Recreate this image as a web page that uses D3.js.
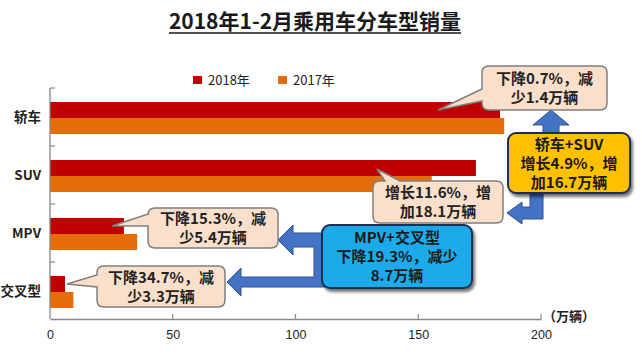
<!DOCTYPE html>
<html><head><meta charset="utf-8">
<script src="https://cdn.jsdelivr.net/npm/d3@7"></script>
<style>
html,body{margin:0;padding:0;background:#fff;}
svg{display:block;font-family:"Noto Sans CJK SC","Noto Sans",sans-serif;}
</style></head>
<body>
<svg id="chart" width="642" height="359"></svg>
<script>
const title = "2018年1-2月乘用车分车型销量";
const categories = ["轿车", "SUV", "MPV", "交叉型"];
const seriesNames = ["2018年", "2017年"];
const values2018 = [183.3, 173.5, 30.1, 6.1];
const values2017 = [185.0, 155.5, 35.5, 9.5];
const xTicks = [0, 50, 100, 150, 200];
const unitLabel = "（万辆）";
const calloutTexts = [
  ["下降0.7%，减", "少1.4万辆"],
  ["增长11.6%，增", "加18.1万辆"],
  ["下降15.3%，减", "少5.4万辆"],
  ["下降34.7%，减", "少3.3万辆"]
];
const summaryTexts = [
  ["轿车+SUV", "增长4.9%，增", "加16.7万辆"],
  ["MPV+交叉型", "下降19.3%，减少", "8.7万辆"]
];

const colors = ["#C00000", "#E46C0A"];
const svg = d3.select("#chart");

const defs = svg.append("defs");
const f = defs.append("filter").attr("id","shadow").attr("x","-10%").attr("y","-10%").attr("width","130%").attr("height","140%");
f.append("feDropShadow").attr("dx",2).attr("dy",3).attr("stdDeviation",1.5).attr("flood-color","#000").attr("flood-opacity",0.55);

const x = d3.scaleLinear().domain([0, 200]).range([50, 541]);
const y = d3.scaleBand().domain(categories).range([88, 320]).padding(0);
const ySub = d3.scaleBand().domain(seriesNames).range([14, 46]).padding(0);

// title
const t = svg.append("text").attr("x", 315).attr("y", 29).attr("text-anchor","middle")
  .attr("font-size", 21).attr("font-weight","bold").attr("fill","#1a1a1a").text(title);
const bb = t.node().getBBox();
svg.append("line").attr("x1", bb.x).attr("x2", bb.x + bb.width).attr("y1", 33).attr("y2", 33)
  .attr("stroke","#1a1a1a").attr("stroke-width",1.6);

// legend
const legX = [193, 278];
seriesNames.forEach((s,i)=>{
  svg.append("rect").attr("x", legX[i]).attr("y", 76).attr("width", 9).attr("height", 8).attr("fill", colors[i]);
  svg.append("text").attr("x", legX[i]+15).attr("y", 84.5).attr("font-size", 13).attr("fill","#222").text(s);
});

// bars
const data = categories.map((c,i)=>({cat:c, vals:[values2018[i], values2017[i]]}));
const g = svg.append("g");
data.forEach(d=>{
  d.vals.forEach((v,j)=>{
    g.append("rect").attr("x", x(0)).attr("y", y(d.cat) + ySub(seriesNames[j]))
      .attr("width", x(v) - x(0)).attr("height", ySub.bandwidth()).attr("fill", colors[j]);
  });
});

// axes
const xAxis = d3.axisBottom(x).tickValues(xTicks).tickSize(0).tickPadding(11);
const xg = svg.append("g").attr("transform","translate(0,319)").call(xAxis);
xg.select(".domain").attr("stroke","#888").attr("stroke-width",1.3);
xg.selectAll("text").attr("font-size",12.5).attr("fill","#222").attr("font-family","Liberation Sans, Arial, sans-serif");
xTicks.slice(1).forEach(v=>{
  svg.append("line").attr("x1",x(v)).attr("x2",x(v)).attr("y1",319).attr("y2",314).attr("stroke","#888").attr("stroke-width",1.2);
});
svg.append("line").attr("x1",x(0)).attr("x2",x(0)).attr("y1",88).attr("y2",319).attr("stroke","#888").attr("stroke-width",1.3);
categories.forEach(c=>{
  svg.append("line").attr("x1",x(0)).attr("x2",x(0)+5).attr("y1",y(c)).attr("y2",y(c)).attr("stroke","#888").attr("stroke-width",1.2);
  svg.append("text").attr("x",41).attr("y", y(c)+y.bandwidth()/2+5).attr("text-anchor","end")
    .attr("font-size",13.5).attr("font-weight","bold").attr("fill","#222").text(c);
});
svg.append("text").attr("x",543).attr("y",321).attr("font-size",13).attr("font-weight","bold").attr("fill","#222").text(unitLabel);

// arrows
const arrowFill = "#4472C4", arrowStroke = "#2F528F";
const arrows = [
  [[543,136],[543,125],[533,125],[551,110],[569,125],[559,125],[559,136]],
  [[530,190],[543,190],[543,219],[522,219],[522,224],[507,213],[522,202],[522,207],[530,207]],
  [[330,233],[293,233],[293,225],[278,240],[293,255],[293,247],[314,247],[314,277],[241,277],[241,268],[227,282],[241,296],[241,287],[330,287]]
];
arrows.forEach(p=>{
  svg.append("path").attr("d", d3.line()(p) + "Z").attr("fill", arrowFill).attr("stroke", arrowStroke).attr("stroke-width",1);
});

// callouts
function calloutPath(x0,y0,x1,y1,r,side,a,b,tip){
  let p = `M${x0+r},${y0}`;
  if(side==="top") p += `L${a},${y0}L${tip[0]},${tip[1]}L${b},${y0}`;
  p += `L${x1-r},${y0}Q${x1},${y0} ${x1},${y0+r}L${x1},${y1-r}Q${x1},${y1} ${x1-r},${y1}L${x0+r},${y1}Q${x0},${y1} ${x0},${y1-r}`;
  if(side==="left") p += `L${x0},${b}L${tip[0]},${tip[1]}L${x0},${a}`;
  p += `L${x0},${y0+r}Q${x0},${y0} ${x0+r},${y0}Z`;
  return p;
}
const callouts = [
  {box:[482,66,607,110], side:"left", a:89, b:101, tip:[x(values2018[0])-62, y(categories[0])+ySub(seriesNames[0])+8]},
  {box:[373,181,503,223], side:"top", a:385, b:400, tip:[x(values2018[1])-99, y(categories[1])+ySub(seriesNames[1])-7]},
  {box:[148,208,278,248], side:"left", a:214, b:226, tip:[x(values2018[2])-12, y(categories[2])+ySub(seriesNames[0])+8]},
  {box:[97,266,225,307], side:"left", a:275, b:287, tip:[x(values2018[3])+2, y(categories[3])+ySub(seriesNames[0])+8]}
];
callouts.forEach((c,i)=>{
  const [x0,y0,x1,y1] = c.box;
  svg.append("path").attr("d", calloutPath(x0,y0,x1,y1,7,c.side,c.a,c.b,c.tip))
    .attr("fill","#FAE0CA").attr("stroke","#7F7F7F").attr("stroke-width",1.5);
  const cx = (x0+x1)/2, cy = (y0+y1)/2;
  calloutTexts[i].forEach((line,k)=>{
    svg.append("text").attr("x",cx).attr("y", cy + (k-0.5)*19 + 5.5).attr("text-anchor","middle")
      .attr("font-size",15).attr("font-weight","bold").attr("fill","#222").text(line);
  });
});

// summary boxes
const summaries = [
  {box:[508,133,630,193], fill:"#FFC000"},
  {box:[322,225,472,288], fill:"#1AABEA"}
];
summaries.forEach((s,i)=>{
  const [x0,y0,x1,y1] = s.box;
  svg.append("rect").attr("x",x0).attr("y",y0).attr("width",x1-x0).attr("height",y1-y0).attr("rx",8)
    .attr("fill",s.fill).attr("stroke","#1F2D55").attr("stroke-width",2).attr("filter","url(#shadow)");
  const cx=(x0+x1)/2, cy=(y0+y1)/2;
  summaryTexts[i].forEach((line,k)=>{
    svg.append("text").attr("x",cx).attr("y", cy + (k-1)*19 + 5.5).attr("text-anchor","middle")
      .attr("font-size",15).attr("font-weight","bold").attr("fill","#1a1a1a").text(line);
  });
});
</script>
</body></html>
